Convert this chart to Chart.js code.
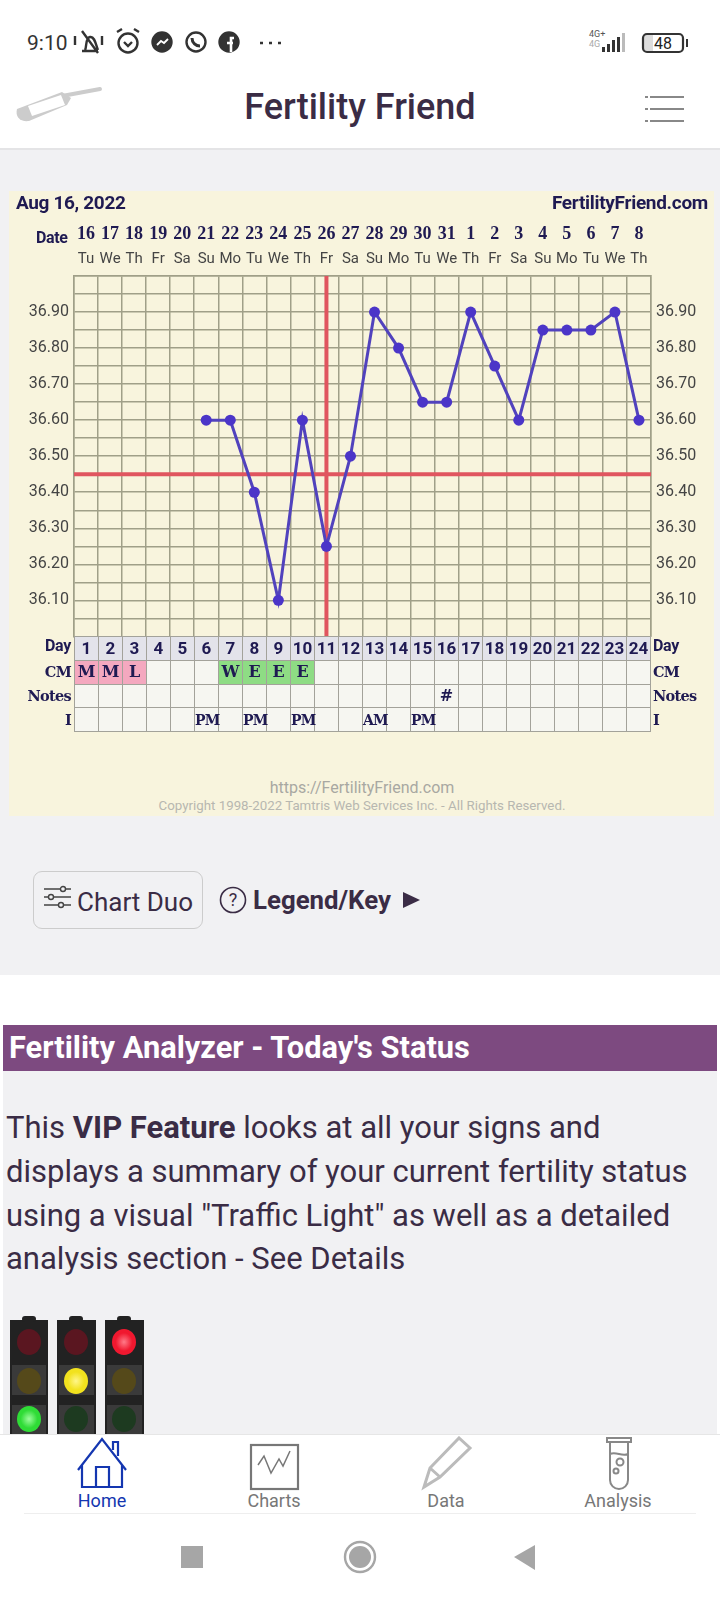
<!DOCTYPE html>
<html><head><meta charset="utf-8">
<script src="https://cdn.jsdelivr.net/npm/chart.js@4"></script>
<style>
html,body{margin:0;padding:0;background:#fff;width:720px;height:1600px;overflow:hidden;font-family:Roboto,sans-serif}
.a{position:absolute;white-space:nowrap}
#gray{left:0;top:148px;width:720px;height:827px;background:#f1f1f3;border-top:2px solid #e4e4e6;box-sizing:border-box}
#panel{left:9px;top:191px;width:705px;height:625px;background:#f8f4dd}
#chartBox{left:9px;top:191px;width:705px;height:460px}
#tbl{left:74px;top:636px;width:577px;height:96px;border-collapse:collapse;table-layout:fixed;font:bold 16px "DejaVu Serif",serif;color:#1f1a52}
#tbl td{border:1.5px solid #a3a29a;padding:0;height:22.5px;text-align:center;background:#f6f6f1;overflow:visible;white-space:nowrap;line-height:20px}
#tbl tr.day td{background:#e3e3ea;font:bold 17px Roboto,sans-serif}
#tbl tr.i td{font-size:14px;letter-spacing:-.8px}
#tbl td.pink{background:#f4a8bf}#tbl td.green{background:#8edc84}
.rl{font:bold 14.5px "DejaVu Serif",serif;color:#1f1a52;letter-spacing:-.7px}
.para{left:6px;font-size:31px;color:#3a2c45;line-height:44px}
.nav{font-size:18px;color:#777;transform:translateX(-50%);top:1490px}
</style></head><body>
<div class="a" id="gray"></div>
<div class="a" id="panel"></div>
<div class="a" id="chartBox"><canvas id="c"></canvas></div>

<div class="a" style="left:16px;top:191px;font:bold 19px Roboto;letter-spacing:-.35px;color:#1f1a52;line-height:24px">Aug 16, 2022</div>
<div class="a" style="right:12px;top:191px;font:bold 19px Roboto;letter-spacing:-.3px;color:#1f1a52;line-height:24px">FertilityFriend.com</div>
<div class="a" style="left:36px;top:228px;font:bold 16px Roboto;letter-spacing:-.4px;color:#1f1a52;line-height:20px">Date</div>
<table class="a" id="tbl"></table>
<div id="rowLabels"></div>
<div class="a" style="left:0;width:724px;text-align:center;top:779px;font-size:16px;color:#a8a8a2;line-height:18px">https://FertilityFriend.com</div>
<div class="a" style="left:0;width:724px;text-align:center;top:798px;font-size:13.3px;color:#b7b7b0;line-height:16px">Copyright 1998-2022 Tamtris Web Services Inc. - All Rights Reserved.</div>

<!-- status bar -->
<div class="a" style="left:27px;top:29px;font-size:21px;color:#333;line-height:28px">9:10</div>
<svg class="a" style="left:72px;top:24px" width="220" height="36" fill="none" stroke="#333" stroke-width="2.4">
<path d="M10 27h16M13 26c2-3 0-12 5-13s6 9 8 13M10 7l16 22M3 12v9M30 12v9"/>
<circle cx="56" cy="19" r="9.5"/><path d="M52 18l4 4 4-4M45 8l5-3M67 8l-5-3"/>
<circle cx="90" cy="18" r="9.5" fill="#333"/><path d="M85 21l4-4 3 2 4-4" stroke="#fff" stroke-width="1.8"/>
<circle cx="124" cy="18" r="9.5"/><path d="M120 14c0 5 4 8 8 8" stroke-width="3"/>
<circle cx="157" cy="18" r="9.5" fill="#333"/><path d="M159 28v-14h3M155 19h6" stroke="#fff" stroke-width="2.6"/>
<path d="M188 19h3M197 19h3M206 19h3" stroke-width="2.6"/></svg>
<div class="a" style="left:589px;top:29px;font-size:9px;color:#555;line-height:10px">4G+<br><span style="color:#aaa">4G</span></div>
<svg class="a" style="left:602px;top:30px" width="90" height="28">
<g fill="#333"><rect x="0" y="17" width="3" height="5"/><rect x="5" y="14" width="3" height="8"/><rect x="10" y="10" width="3" height="12"/><rect x="15" y="7" width="3" height="15"/></g><rect x="20" y="3" width="3" height="19" fill="#bbb"/>
<rect x="42" y="5" width="9" height="16" fill="#ddd"/><rect x="41" y="4" width="40" height="18" rx="4" fill="none" stroke="#333" stroke-width="2.2"/><rect x="84" y="9" width="2" height="8" fill="#333"/></svg>
<div class="a" style="left:643px;top:32px;width:40px;text-align:center;font-size:16px;color:#222;line-height:24px">48</div>

<!-- app bar -->
<div class="a" style="left:0;width:720px;text-align:center;top:85px;font-size:36px;font-weight:500;color:#3a2c45;line-height:44px">Fertility Friend</div>
<svg class="a" style="left:12px;top:85px" width="92" height="40" fill="none">
<path d="M50 11L88 4" stroke="#ccc" stroke-width="4" stroke-linecap="round"/>
<path d="M5 24L50 7l9 6-4 7L17 36C8 37 3 32 5 24z" fill="#ccc"/><path d="M16 21l33-11 4 10-33 11z" fill="#fff"/></svg>
<svg class="a" style="left:644px;top:94px" width="42" height="30" stroke="#888" stroke-width="2"><path d="M6 3h34M6 15h34M6 27h34"/><path d="M1 3h3M1 15h3M1 27h3"/></svg>

<!-- buttons -->
<div class="a" style="left:33px;top:871px;width:170px;height:58px;border:1.5px solid #ccc;border-radius:9px;box-sizing:border-box"></div>
<svg class="a" style="left:43px;top:885px" width="30" height="24" stroke="#444" stroke-width="1.4" fill="#f1f1f3"><path d="M1 4h27M1 12h27M1 20h27"/><circle cx="20" cy="4" r="2.5"/><circle cx="8" cy="12" r="2.5"/><circle cx="18" cy="20" r="2.5"/></svg>
<div class="a" style="left:77px;top:886px;font-size:26px;color:#3a2c45;line-height:32px">Chart Duo</div>
<svg class="a" style="left:219px;top:886px" width="28" height="28" fill="none" stroke="#3a2c45" stroke-width="1.6"><circle cx="14" cy="14" r="12.5"/></svg>
<div class="a" style="left:219px;top:886px;width:28px;text-align:center;font-size:18px;color:#3a2c45;line-height:28px">?</div>
<div class="a" style="left:253px;top:884px;font-size:25.8px;font-weight:700;color:#3a2c45;line-height:32px">Legend/Key</div>
<svg class="a" style="left:402px;top:890px" width="20" height="20"><path d="M1 2L18 10L1 18z" fill="#3a2c45"/></svg>

<!-- analyzer -->
<div class="a" style="left:3px;top:1071px;width:714px;height:363px;background:#f1f1f3"></div>
<div class="a" style="left:3px;top:1025px;width:714px;height:46px;background:#7d4a80"></div>
<div class="a" style="left:9px;top:1030px;font-size:30.8px;font-weight:700;color:#fff;line-height:36px">Fertility Analyzer - Today's Status</div>
<div class="a para" style="top:1106px">This <b>VIP Feature</b> looks at all your signs and</div>
<div class="a para" style="top:1150px">displays a summary of your current fertility status</div>
<div class="a para" style="top:1194px">using a visual "Traffic Light" as well as a detailed</div>
<div class="a para" style="top:1237px">analysis section - See Details</div>

<svg class="a" style="left:0;top:1313px" width="160" height="121">
<defs>
<radialGradient id="r"><stop offset="0" stop-color="#ff7a88"/><stop offset=".7" stop-color="#f0182f"/></radialGradient>
<radialGradient id="y"><stop offset="0" stop-color="#fff68a"/><stop offset=".7" stop-color="#f2e21e"/></radialGradient>
<radialGradient id="g"><stop offset="0" stop-color="#9dfc9d"/><stop offset=".7" stop-color="#2fdc36"/></radialGradient>
</defs>
<g fill="#222"><rect x="10" y="7" width="38" height="117"/><rect x="57" y="7" width="39" height="117"/><rect x="105" y="7" width="39" height="117"/>
<rect x="22" y="3" width="14" height="6" rx="3"/><rect x="69" y="3" width="14" height="6" rx="3"/><rect x="117" y="3" width="14" height="6" rx="3"/></g>
<g fill="#3a3a3a"><rect x="12" y="52" width="34" height="30"/><rect x="59" y="52" width="35" height="30"/><rect x="107" y="52" width="35" height="30"/><rect x="12" y="92" width="34" height="32"/><rect x="59" y="92" width="35" height="32"/><rect x="107" y="92" width="35" height="32"/></g>
<ellipse cx="29" cy="29" rx="12" ry="13" fill="#5a1620"/><ellipse cx="76" cy="29" rx="12" ry="13" fill="#5a1620"/><ellipse cx="124" cy="29" rx="12" ry="13" fill="url(#r)"/>
<ellipse cx="29" cy="68" rx="12" ry="13" fill="#55491a"/><ellipse cx="76" cy="68" rx="12" ry="13" fill="url(#y)"/><ellipse cx="124" cy="68" rx="12" ry="13" fill="#55491a"/>
<ellipse cx="29" cy="106" rx="12" ry="13" fill="url(#g)"/><ellipse cx="76" cy="106" rx="12" ry="13" fill="#1d3a20"/><ellipse cx="124" cy="106" rx="12" ry="13" fill="#1d3a20"/>
</svg>

<!-- bottom nav -->
<div class="a" style="left:0;top:1434px;width:720px;height:166px;background:#fff;border-top:1px solid #e6e6e6;box-sizing:border-box"></div>
<svg class="a" style="left:0;top:1436px" width="720" height="56" fill="none" stroke-width="2.2">
<g stroke="#1436b0"><path d="M78 34L102 3l24 31M82 29v22h40V29M96 51V31h13v20M113 14V6h5v14"/></g>
<g stroke="#777"><rect x="251" y="9" width="47" height="44"/><path d="M258 29l6-9 7 17 8-14 4 7 7-15" stroke-width="1.5"/></g>
<g stroke="#bbb" stroke-width="3"><path d="M424 51l6-19 29-30 11 10-30 29zM430 32l10 9"/></g>
<g stroke="#888" stroke-width="2"><path d="M607 2h24v4h-24zM610 6v38a9 9 0 0 0 18 0V6M610 18c6-3 12 3 18 0"/><circle cx="620" cy="26" r="3.5"/><circle cx="616" cy="35" r="2.5"/></g>
</svg>
<div class="a nav" style="left:102px;color:#1436b0">Home</div>
<div class="a nav" style="left:274px">Charts</div>
<div class="a nav" style="left:446px">Data</div>
<div class="a nav" style="left:618px">Analysis</div>
<div class="a" style="left:24px;top:1513px;width:672px;height:1px;background:#eee"></div>
<svg class="a" style="left:170px;top:1535px" width="380" height="44">
<rect x="11" y="11" width="22" height="22" fill="#a6a6a6"/>
<circle cx="190" cy="22" r="15" fill="none" stroke="#a6a6a6" stroke-width="2.4"/><circle cx="190" cy="22" r="11" fill="#a6a6a6"/>
<path d="M365 10v25L344 22z" fill="#a6a6a6"/></svg>

<script>
const dateLabels = ['16','17','18','19','20','21','22','23','24','25','26','27','28','29','30','31','1','2','3','4','5','6','7','8'];
const weekdayLabels = ['Tu','We','Th','Fr','Sa','Su','Mo','Tu','We','Th','Fr','Sa','Su','Mo','Tu','We','Th','Fr','Sa','Su','Mo','Tu','We','Th'];
const temperatures = [null,null,null,null,null,36.60,36.60,36.40,36.10,36.60,36.25,36.50,36.90,36.80,36.65,36.65,36.90,36.75,36.60,36.85,36.85,36.85,36.90,36.60];
const dayNumbers = ['1','2','3','4','5','6','7','8','9','10','11','12','13','14','15','16','17','18','19','20','21','22','23','24'];
const cmValues = ['M','M','L','','','','W','E','E','E','','','','','','','','','','','','','',''];
const notesValues = ['','','','','','','','','','','','','','','','#','','','','','','','',''];
const intercourseValues = ['','','','','','PM','','PM','','PM','','','AM','','PM','','','','','','','','',''];
const coverline = 36.45;
const ovulationDate = '26';

// table under the plot
const rows = [['day',dayNumbers],['cm',cmValues],['notes',notesValues],['i',intercourseValues]];
document.getElementById('tbl').innerHTML = rows.map(([k,vals]) => '<tr class="'+k+'">' + vals.map(v => {
  let cls = '';
  if (k==='cm' && (v==='M'||v==='L')) cls='pink';
  if (k==='cm' && (v==='W'||v==='E')) cls='green';
  return '<td class="'+cls+'">'+v+'</td>';
}).join('') + '</tr>').join('');
const rowNames = ['Day','CM','Notes','I'];
document.getElementById('rowLabels').innerHTML = rowNames.map((n,i) => {
  const top = 636 + i*24;
  const st = n==='Day' ? 'font:bold 16px Roboto,sans-serif;letter-spacing:-.3px;' : '';
  return '<div class="a rl" style="right:'+(720-71)+'px;top:'+top+'px;line-height:24px;'+st+'">'+n+'</div>'+
         '<div class="a rl" style="left:653px;top:'+top+'px;line-height:24px;'+st+'">'+n+'</div>';
}).join('');

const redLines = {
  id:'redLines',
  beforeDatasetsDraw(ch){
    const {ctx,chartArea:a,scales:{x,y}} = ch;
    ctx.save(); ctx.strokeStyle='#e0555f'; ctx.lineWidth=4;
    const py=y.getPixelForValue(coverline), px=x.getPixelForValue(ovulationDate);
    ctx.beginPath(); ctx.moveTo(a.left,py); ctx.lineTo(a.right,py);
    ctx.moveTo(px,a.top); ctx.lineTo(px,a.bottom); ctx.stroke(); ctx.restore();
  }
};
const tickFmt = v => {
  const n = Math.round(v*100);
  return (n%10===0 && n>3600 && n<3700) ? (n/100).toFixed(2) : '';
};
const sansTick = {family:'Roboto',size:16};
new Chart(document.getElementById('c'),{
  type:'line',
  plugins:[redLines],
  data:{labels:dateLabels,datasets:[{
    data:temperatures,borderColor:'#5142bd',backgroundColor:'#4b35c8',borderWidth:3,
    pointRadius:5.5,pointBackgroundColor:'#4b35c8',pointBorderWidth:0,tension:0,spanGaps:false,clip:false
  }]},
  options:{
    responsive:true,maintainAspectRatio:false,animation:false,
    layout:{padding:{top:33,bottom:3,left:0,right:0}},
    plugins:{legend:{display:false},tooltip:{enabled:false}},
    scales:{
      x:{type:'category',position:'top',offset:true,weight:0,
        grid:{offset:true,color:'#a09f88',lineWidth:1.5,drawTicks:false},
        border:{color:'#a09f88',width:1.5},
        ticks:{autoSkip:false,maxRotation:0,minRotation:0,padding:8,color:'#444',font:{family:'Roboto',size:15},
          callback:(v,i)=>weekdayLabels[i]},
        afterFit:s=>{s.height=29}},
      x2:{type:'category',position:'top',labels:dateLabels,offset:true,weight:1,
        grid:{display:false,drawTicks:false},border:{display:false},
        ticks:{autoSkip:false,maxRotation:0,minRotation:0,padding:2,color:'#1f1a52',font:{family:'Liberation Serif',size:18,weight:'bold'}},
        afterFit:s=>{s.height=23}},
      y:{position:'left',min:36,max:37,
        grid:{color:'#a09f88',lineWidth:1.5,drawTicks:false},
        border:{color:'#a09f88',width:1.5},
        ticks:{stepSize:0.05,autoSkip:false,padding:5,color:'#444',font:sansTick,callback:tickFmt},
        afterFit:s=>{s.width=65}},
      y2:{position:'right',min:36,max:37,
        grid:{display:false,drawTicks:false},border:{color:'#a09f88',width:1.5},
        ticks:{stepSize:0.05,autoSkip:false,padding:5,color:'#444',font:sansTick,callback:tickFmt},
        afterFit:s=>{s.width=63}}
    }
  }
});
</script>
</body></html>
